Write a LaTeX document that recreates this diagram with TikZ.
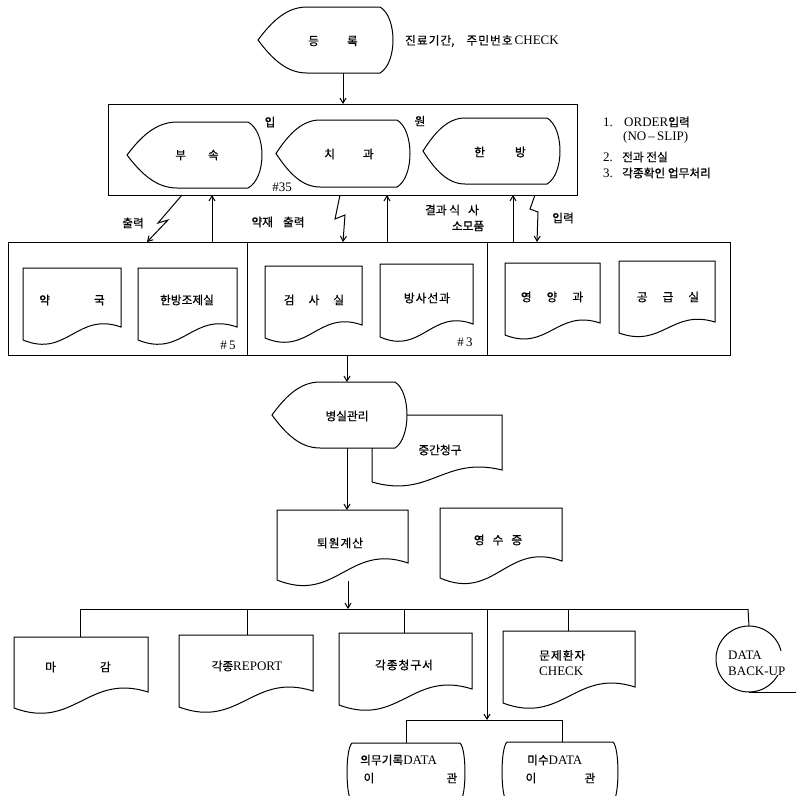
\documentclass[tikz,border=0pt]{standalone}
\usepackage{fontspec}
\setmainfont{Liberation Serif}
\newfontfamily\kr[Scale=0.9,FakeBold=0.6]{Noto Sans CJK KR}
\usetikzlibrary{arrows.meta}
% document symbol: opt, x1, ytop, x2, ybottom-left, a (rise of right corner)
\newcommand\docshape[6][]{%
  \draw[shp,#1] (#2,#3) -- (#4,#3) -- (#4,{#5-#6})
    .. controls ({#2+0.55*(#4-#2)},{#5-2.2*#6}) and ({#2+0.45*(#4-#2)},{#5+1.4*#6}) .. (#2,#5) -- cycle;}
% display symbol: opt, xl, xa, xb, xr, ytop, ybottom
\newcommand\dispshape[7][]{%
  \draw[shp,#1] (#2,{(#6+#7)/2})
    .. controls ({#2+0.3*(#3-#2)},{#6+0.2*(#7-#6)}) and ({#3-0.4*(#3-#2)},#6) .. (#3,#6)
    -- (#4,#6)
    .. controls ({(4*#5-#4)/3},{#6+0.15*(#7-#6)}) and ({(4*#5-#4)/3},{#7-0.15*(#7-#6)}) .. (#4,#7)
    -- (#3,#7)
    .. controls ({#3-0.4*(#3-#2)},#7) and ({#2+0.3*(#3-#2)},{#7-0.2*(#7-#6)}) .. (#2,{(#6+#7)/2}) -- cycle;}
% stored-data symbol: opt, x1, x2, ytop, ybottom, bulge
\newcommand\storeshape[6][]{%
  \draw[shp,#1] (#2,#4) -- (#3,#4)
    .. controls ({#3+1.33*#6},{#4+0.1*(#5-#4)}) and ({#3+1.33*#6},{#5-0.1*(#5-#4)}) .. (#3,#5)
    -- (#2,#5)
    .. controls ({#2-1.33*#6},{#5-0.1*(#5-#4)}) and ({#2-1.33*#6},{#4+0.1*(#5-#4)}) .. (#2,#4) -- cycle;}
\begin{document}
\begin{tikzpicture}[x=1pt,y=-1pt,
  shp/.style={line width=1pt,fill=white},
  ln/.style={line width=1pt},
  box/.style={draw,line width=1pt,inner sep=0pt,outer sep=0pt},
  arr/.style={line width=1pt,-{Straight Barb[length=5pt,width=6pt,line width=1pt]}},
  txt/.style={font=\fontsize{13}{15}\selectfont,inner sep=0pt},
]
\useasboundingbox (0,0) rectangle (796,796);
\clip (0,0) rectangle (796,796);

% ---------- registration ----------
\dispshape{258}{307}{380}{393}{7}{73}
\node[txt] (reg) at (333,41) {\kr 등\hspace{28pt}록};
\node[txt,anchor=west] (regnote) at (405,41) {{\kr 진\hspace{1pt}료\hspace{1pt}기\hspace{1pt}간,\hspace{12pt}주\hspace{1pt}민\hspace{1pt}번\hspace{1pt}호}\,CHECK};
\coordinate (regb) at (343,73);
\coordinate (admt) at (343,104);
\draw[arr] (regb) -- (admt);

% ---------- admission box ----------
\node[box,minimum width=469pt,minimum height=91pt] (adm) at (342.5,149.5) {};
\node[txt] (ip) at (270,122) {\kr 입};
\node[txt] (won) at (420,121) {\kr 원};
\dispshape{127}{177}{248}{262}{122}{188}
\node[txt] (bus) at (197,155) {\kr 부\hspace{22pt}속};
\dispshape{276}{320}{397}{410}{120}{187}
\node[txt] (chi) at (349,154) {\kr 치\hspace{28pt}과};
\dispshape{423}{465}{547}{560}{118}{184}
\node[txt] (han) at (500,152) {\kr 한\hspace{30pt}방};
\node[txt] (n35) at (282,187) {\#35};

% notes
\node[txt,anchor=west] (note1) at (603,122) {\makebox[21pt][l]{1.}ORDER{\kr 입력}};
\node[txt,anchor=west] (note1b) at (623,137) {(NO\,--\,SLIP)};
\node[txt,anchor=west] (note2) at (603,157) {\makebox[19pt][l]{2.}{\kr 전과 전실}};
\node[txt,anchor=west] (note3) at (603,173) {\makebox[19pt][l]{3.}{\kr 각종확인 업무처리}};

% ---------- second row ----------
\node[box,minimum width=239pt,minimum height=113pt] (grpA) at (127.5,298.5) {};
\node[box,minimum width=240pt,minimum height=113pt] (grpB) at (367,298.5) {};
\node[box,minimum width=243pt,minimum height=113pt] (grpC) at (608.5,298.5) {};

% connectors between rows
\coordinate (b1s) at (182,195); \coordinate (b1e) at (147,242);
\draw[arr] (b1s) -- (158,223) -- (168,220) -- (b1e);
\node[txt] (out1) at (133,223) {\kr 출력};
\coordinate (u1s) at (212,242); \coordinate (u1e) at (212,195);
\draw[arr] (u1s) -- (u1e);
\node[txt] (out2) at (278,222) {\kr 약재\hspace{10pt}출력};
\coordinate (b2s) at (340,195); \coordinate (b2e) at (343,242);
\draw[arr] (b2s) -- (335,219) -- (345,215) -- (b2e);
\coordinate (u2s) at (387,242); \coordinate (u2e) at (387,195);
\draw[arr] (u2s) -- (u2e);
\node[txt] (res1) at (452,210) {\kr 결과 식\hspace{8pt}사};
\node[txt] (res2) at (468,226) {\kr 소모품};
\coordinate (u3s) at (513,242); \coordinate (u3e) at (513,195);
\draw[arr] (u3s) -- (u3e);
\coordinate (b3s) at (535,195); \coordinate (b3e) at (537,242);
\draw[arr] (b3s) -- (530,209) -- (538,212) -- (b3e);
\node[txt] (inp) at (563,218) {\kr 입력};

% documents in row 2
\docshape{23}{268}{121}{340}{13}
\node[txt] (yak) at (72,300) {\kr 약\hspace{44pt}국};
\docshape{138}{268}{237}{340}{13}
\node[txt] (hanbang) at (187,300) {\kr 한방조제실};
\node[txt] (n5) at (228,345) {\#\,5};
\docshape{265}{266}{362}{338}{13}
\node[txt] (gum) at (314,300) {\kr 검\hspace{14pt}사\hspace{14pt}실};
\docshape{380}{264}{473}{337}{13}
\node[txt] (bang) at (427,298) {\kr 방\hspace{1pt}사\hspace{1pt}선\hspace{1pt}과};
\node[txt] (n3) at (465,342) {\#\,3};
\docshape{505}{263}{600}{335}{12}
\node[txt] (yeong) at (552,297) {\kr 영\hspace{15pt}양\hspace{15pt}과};
\docshape{619}{261}{715}{333}{11}
\node[txt] (gong) at (668,297) {\kr 공\hspace{15pt}급\hspace{15pt}실};

% ---------- ward management ----------
\coordinate (r2b) at (347,355);
\coordinate (wardt) at (347,382);
\draw[arr] (r2b) -- (wardt);
\docshape{372}{415}{502}{482}{12}
\node[txt] (mid) at (440,450) {\kr 중간청구};
\dispshape{272}{320}{395}{407}{382}{448}
\node[txt] (ward) at (347,416) {\kr 병실관리};
\coordinate (wardb) at (347,448);
\coordinate (calct) at (347,510);
\draw[arr] (wardb) -- (calct);

% ---------- discharge ----------
\docshape{277}{510}{408}{580}{17}
\node[txt] (calc) at (340,543) {\kr 퇴\hspace{1pt}원\hspace{1pt}계\hspace{1pt}산};
\docshape{440}{508}{562}{578}{17}
\node[txt] (rcpt) at (498,540) {\kr 영\hspace{8pt}수\hspace{8pt}증};
\coordinate (calcb) at (348,581);
\coordinate (busj) at (348,609);
\draw[arr] (calcb) -- (busj);

% ---------- output bus ----------
\coordinate (busL) at (80,609);
\coordinate (busR) at (748,609);
\draw[ln] (busL) -- (busR);
\coordinate (mat) at (80,637);
\draw[ln] (busL) -- (mat);
\coordinate (rpx) at (247,609); \coordinate (rpt) at (247,635);
\draw[ln] (rpx) -- (rpt);
\coordinate (cgx) at (404,609); \coordinate (cgt) at (404,633);
\draw[ln] (cgx) -- (cgt);
\coordinate (pcx) at (568,609); \coordinate (pct) at (568,631);
\draw[ln] (pcx) -- (pct);

\docshape{14}{637}{148}{708}{16}
\node[txt] (magam) at (78,667) {\kr 마\hspace{44pt}감};
\docshape{179}{635}{313}{707}{16}
\node[txt] (report) at (247,666) {{\kr 각종}REPORT};
\docshape{339}{633}{472}{705}{16}
\node[txt] (claim) at (404,665) {\kr 각\hspace{1pt}종\hspace{1pt}청\hspace{1pt}구\hspace{1pt}서};
\docshape{503}{631}{635}{703}{16}
\node[txt,anchor=west,align=left] (prob) at (539,663) {{\kr 문\hspace{1pt}제\hspace{1pt}환\hspace{1pt}자}\\[1pt]CHECK};

% backup
\node[draw,circle,line width=1pt,minimum size=66pt,inner sep=0pt,outer sep=0pt] (bk) at (749,659) {};
\draw[ln] (busR) -- (bk.north);
\coordinate (tapeR) at (796,692);
\draw[ln] (bk.south) -- (tapeR);
\node[txt,anchor=west,align=left,fill=white,inner sep=0pt] (bktxt) at (728,663) {DATA\\[1pt]BACK-UP};

% ---------- data transfer ----------
\coordinate (dvt) at (487,609);
\coordinate (dvb) at (487,720);
\draw[arr] (dvt) -- (dvb);
\coordinate (d2L) at (406,720);
\coordinate (d2R) at (562,720);
\draw[ln] (d2L) -- (d2R);
\coordinate (medt) at (406,743);
\coordinate (misut) at (562,742);
\draw[ln] (d2L) -- (medt);
\draw[ln] (d2R) -- (misut);
\storeshape{352}{460}{743}{802}{5}
\node[txt,anchor=west] (med1) at (360,760) {{\kr 의무기록}DATA};
\node[txt] (med2) at (369,778) {\kr 이};
\node[txt] (med3) at (452,778) {\kr 관};
\storeshape{507}{613}{742}{802}{5}
\node[txt,anchor=west] (misu1) at (527,760) {{\kr 미수}DATA};
\node[txt] (misu2) at (531,778) {\kr 이};
\node[txt] (misu3) at (590,778) {\kr 관};
\end{tikzpicture}
\end{document}
